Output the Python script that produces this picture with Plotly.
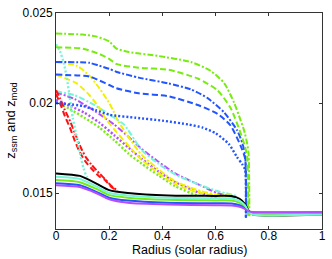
import plotly.graph_objects as go

# ---------------- data ----------------
# z_ssm curves (dashed / dash-dot / dotted)
r_green_dd = [0, 0.10, 0.15, 0.20, 0.226, 0.274, 0.385, 0.507, 0.581, 0.633, 0.670, 0.693, 0.707, 0.718, 0.724, 0.727]
z_green_dd = [0.02386, 0.02380, 0.02370, 0.02342, 0.02304, 0.02283, 0.02261, 0.02228, 0.02179, 0.02109, 0.02000, 0.01908, 0.01848, 0.01780, 0.01720, 0.01362]

r_green_da = [0, 0.10, 0.163, 0.20, 0.226, 0.311, 0.422, 0.533, 0.607, 0.656, 0.693, 0.710, 0.719, 0.722]
z_green_da = [0.02310, 0.02302, 0.02272, 0.02245, 0.02217, 0.02196, 0.02185, 0.02136, 0.02071, 0.01973, 0.01837, 0.01760, 0.01700, 0.01362]

r_blue_dd = [0, 0.126, 0.163, 0.20, 0.226, 0.311, 0.422, 0.507, 0.570, 0.633, 0.681, 0.700, 0.711, 0.714]
z_blue_dd = [0.02228, 0.02223, 0.02207, 0.02190, 0.02174, 0.02141, 0.02109, 0.02076, 0.02027, 0.01946, 0.01848, 0.01780, 0.01712, 0.01362]

r_blue_da = [0, 0.126, 0.163, 0.20, 0.226, 0.311, 0.422, 0.533, 0.607, 0.656, 0.693, 0.711, 0.714]
z_blue_da = [0.02158, 0.02147, 0.02125, 0.02100, 0.02082, 0.02054, 0.02038, 0.01989, 0.01940, 0.01875, 0.01766, 0.01690, 0.01362]

r_blue_dt = [0, 0.10, 0.15, 0.20, 0.30, 0.40, 0.50, 0.55, 0.60, 0.65, 0.68, 0.70, 0.711, 0.714]
z_blue_dt = [0.02000, 0.01984, 0.01960, 0.01935, 0.01918, 0.01902, 0.01880, 0.01864, 0.01832, 0.01772, 0.01701, 0.01660, 0.01630, 0.01362]

r_yellow_dd = [0, 0.078, 0.126, 0.163, 0.20, 0.219, 0.226, 0.322, 0.448, 0.544, 0.607, 0.66]
z_yellow_dd = [0.02228, 0.02207, 0.02152, 0.02082, 0.02000, 0.01946, 0.01918, 0.01712, 0.01565, 0.01511, 0.01490, 0.01486]

r_yellow_da = [0, 0.078, 0.126, 0.163, 0.189, 0.322, 0.448, 0.544, 0.607, 0.66]
z_yellow_da = [0.02158, 0.02109, 0.02043, 0.01973, 0.01908, 0.01685, 0.01549, 0.01500, 0.01484, 0.01482]

r_aqua_dt = [0, 0.015, 0.030, 0.041, 0.052, 0.063, 0.078, 0.089, 0.104, 0.115, 0.125]
z_aqua_dt = [0.02326, 0.02288, 0.02217, 0.02136, 0.02027, 0.01918, 0.01810, 0.01728, 0.01636, 0.01592, 0.01583]

r_aqua_dd = [0, 0.07, 0.144, 0.219, 0.256, 0.322, 0.385, 0.448, 0.533, 0.607, 0.68]
z_aqua_dd = [0.02065, 0.02043, 0.01989, 0.01918, 0.01880, 0.01739, 0.01663, 0.01603, 0.01549, 0.01511, 0.01484]

r_red_dd = [0, 0.015, 0.033, 0.052, 0.070, 0.089, 0.111, 0.133, 0.163, 0.185, 0.207, 0.23]
z_red_dd = [0.02071, 0.02027, 0.01962, 0.01902, 0.01837, 0.01766, 0.01701, 0.01658, 0.01609, 0.01576, 0.01540, 0.01515]

r_red_da = [0, 0.015, 0.033, 0.052, 0.070, 0.089, 0.111, 0.133, 0.163, 0.185, 0.207, 0.23]
z_red_da = [0.02049, 0.02000, 0.01929, 0.01864, 0.01793, 0.01728, 0.01674, 0.01636, 0.01592, 0.01571, 0.01535, 0.01512]

r_purple_dd = [0, 0.07, 0.144, 0.219, 0.274, 0.322, 0.385, 0.448, 0.533, 0.607, 0.68]
z_purple_dd = [0.02060, 0.02022, 0.01957, 0.01880, 0.01810, 0.01745, 0.01674, 0.01609, 0.01549, 0.01500, 0.01473]

r_purple_dt = [0, 0.052, 0.107, 0.163, 0.219, 0.274, 0.322, 0.385, 0.448, 0.533, 0.607]
z_purple_dt = [0.02016, 0.01984, 0.01946, 0.01891, 0.01821, 0.01750, 0.01690, 0.01620, 0.01560, 0.01505, 0.01473]

r_green_dt = [0, 0.052, 0.107, 0.163, 0.219, 0.274, 0.322, 0.385, 0.448, 0.533]
z_green_dt = [0.02005, 0.01967, 0.01918, 0.01864, 0.01793, 0.01717, 0.01663, 0.01598, 0.01538, 0.01484]

# z_mod curves (solid)
r_mod = [0, 0.09, 0.15, 0.20, 0.27, 0.42, 0.60, 0.66, 0.69, 0.71, 0.725, 0.74, 1.0]
z_mod_black = [0.01609, 0.01595, 0.01554, 0.01516, 0.01500, 0.01486, 0.01484, 0.01483, 0.01468, 0.01440, 0.01400, 0.01380, 0.01380]
z_mod_lime = [0.01572, 0.01560, 0.01524, 0.01488, 0.01474, 0.01462, 0.01459, 0.01458, 0.01446, 0.01425, 0.01395, 0.01381, 0.01381]
z_mod_blue = [0.01554, 0.01543, 0.01508, 0.01474, 0.01458, 0.01446, 0.01443, 0.01442, 0.01432, 0.01415, 0.01395, 0.01392, 0.01392]
z_mod_aqua = [0.01590, 0.01578, 0.01538, 0.01500, 0.01486, 0.01473, 0.01471, 0.01470, 0.01456, 0.01432, 0.01395, 0.01380, 0.01380]
z_mod_purple = [0.01543, 0.01533, 0.01500, 0.01465, 0.01446, 0.01436, 0.01432, 0.01431, 0.01424, 0.01412, 0.01398, 0.01394, 0.01394]

x_ticks = [0, 0.2, 0.4, 0.6, 0.8, 1]
x_tick_text = ["0", "0.2", "0.4", "0.6", "0.8", "1"]
y_ticks = [0.015, 0.02, 0.025]
y_tick_text = ["0.015", "0.02", "0.025"]

# ---------------- styles ----------------
GREEN = "#78ec10"
BLUE = "#2254ff"
YELLOW = "#f0f000"
AQUA = "#74f5d8"
RED = "#ff1010"
PURPLE = "#b44cff"
DASH = "6px,3px"
DASHDOT = "6px,2px,2px,2px"
DOT = "2px,2px"

fig = go.Figure()

def add(r, z, color, dash, width=2):
    fig.add_trace(go.Scatter(x=r, y=z, mode="lines",
                             line=dict(color=color, width=width, dash=dash, shape="spline", smoothing=0.6),
                             showlegend=False, hoverinfo="skip"))

add(r_green_dt, z_green_dt, GREEN, DOT, 2.4)
add(r_purple_dt, z_purple_dt, PURPLE, DOT, 2.4)
add(r_purple_dd, z_purple_dd, PURPLE, DASHDOT)
add(r_aqua_dd, z_aqua_dd, AQUA, DASHDOT)
add(r_yellow_da, z_yellow_da, YELLOW, DASH)
add(r_yellow_dd, z_yellow_dd, YELLOW, DASHDOT)
add(r_red_da, z_red_da, RED, DASH)
add(r_red_dd, z_red_dd, RED, DASHDOT)
add(r_aqua_dt, z_aqua_dt, AQUA, DOT, 2.4)
add(r_blue_dt, z_blue_dt, BLUE, DOT, 2.4)
add(r_blue_da, z_blue_da, BLUE, DASH)
add(r_blue_dd, z_blue_dd, BLUE, DASHDOT)
add(r_green_da, z_green_da, GREEN, DASH)
add(r_green_dd, z_green_dd, GREEN, DASHDOT)

add(r_mod, z_mod_black, "#000000", "solid")
add(r_mod, z_mod_lime, GREEN, "solid")
add(r_mod, z_mod_blue, BLUE, "solid")
add(r_mod, z_mod_aqua, AQUA, "solid")
add(r_mod, z_mod_purple, PURPLE, "solid")

FONT = dict(family="Liberation Sans, Arial, Helvetica, sans-serif", size=12, color="#000000")
axis_common = dict(showgrid=False, zeroline=False, showline=True, linecolor="#333333", linewidth=1,
                   mirror="ticks", ticks="inside", ticklen=3, tickcolor="#333333", tickfont=FONT)

fig.update_layout(
    width=332, height=259,
    margin=dict(l=56, r=6, t=8, b=30),
    paper_bgcolor="white", plot_bgcolor="white",
    xaxis=dict(range=[0, 1], tickvals=x_ticks, ticktext=x_tick_text, ticklabelstandoff=-4, **axis_common),
    yaxis=dict(range=[0.013, 0.025], tickvals=y_ticks, ticktext=y_tick_text, **axis_common),
    annotations=[
        dict(text="Radius (solar radius)", x=0.5, y=-0.135, xref="paper", yref="paper",
             xanchor="center", yanchor="bottom", showarrow=False, borderpad=0,
             font=dict(FONT, size=12.5)),
        dict(text="z<sub>ssm</sub> and z<sub>mod</sub>", x=-0.17, y=0.5, xref="paper", yref="paper",
             xanchor="center", yanchor="middle", textangle=-90, showarrow=False, font=dict(FONT, size=13)),
    ],
)

fig.write_html("out.html", config={"displayModeBar": False},
               post_script="document.body.style.margin='0';document.body.style.overflow='hidden';")
